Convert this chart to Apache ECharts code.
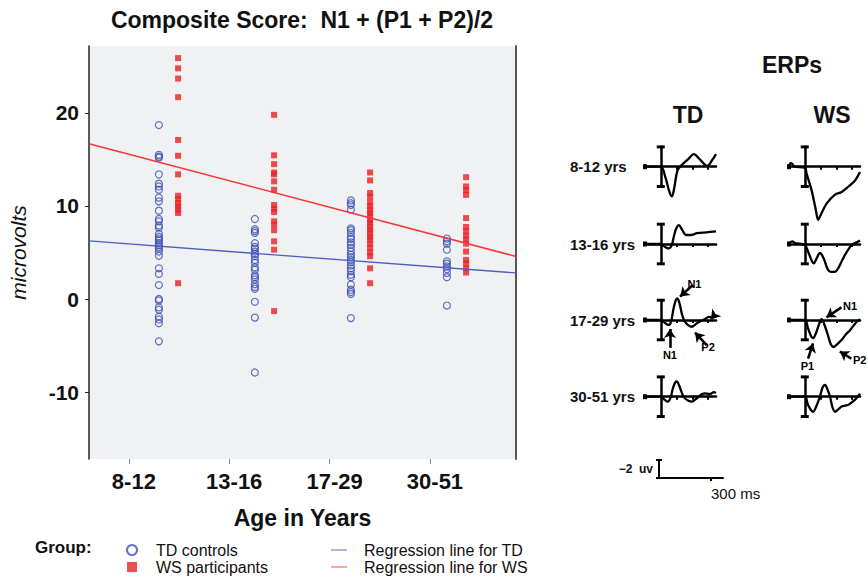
<!DOCTYPE html>
<html><head><meta charset="utf-8">
<script src="https://cdn.jsdelivr.net/npm/echarts@6/dist/echarts.min.js"></script>
<style>html,body{margin:0;padding:0;background:#fff}#c{width:868px;height:578px}</style>
</head><body><div id="c"></div>
<script>
// ---------- data ----------
const categories = ['8-12', '13-16', '17-29', '30-51'];
const yTicks = [-10, 0, 10, 20];

const tdAge8to12 = [18.7,15.5,15.3,15.2,13.4,12.4,12.1,11.75,10.9,10.5,9.5,8.6,8.35,7.9,7.7,7.0,6.7,6.5,6.3,6.0,5.8,5.6,5.4,5.1,4.65,3.3,2.7,1.5,0.0,-0.15,-0.9,-1.15,-1.9,-2.2,-2.6,-4.55];
const wsAge8to12 = [25.9,24.8,23.7,21.7,17.1,15.4,13.4,11.1,10.75,10.3,9.95,9.6,9.25,1.7];
const tdAge13to16 = [8.6,7.5,7.3,7.1,6.0,5.6,5.4,5.1,4.85,4.6,4.2,3.9,3.4,3.15,2.55,2.35,2.1,1.6,1.3,1.1,-0.3,-2.0,-7.9];
const wsAge13to16 = [19.8,15.45,14.5,13.6,13.4,12.65,11.75,10.1,9.7,9.35,8.35,8.0,7.4,6.2,5.3,-1.3];
const tdAge17to29 = [10.6,10.3,10.1,9.6,7.6,7.4,7.1,6.7,6.45,6.1,5.85,5.5,5.1,4.75,4.5,4.2,3.95,3.6,3.3,3.0,2.6,2.35,1.55,1.0,0.75,0.55,-2.05];
const wsAge17to29 = [13.6,12.75,11.4,11.0,10.4,10.0,9.6,9.25,8.9,8.5,8.2,7.8,7.45,7.1,6.7,6.4,5.95,5.5,5.0,4.6,3.3,1.7];
const tdAge30to51 = [6.5,6.2,5.95,5.3,4.05,3.8,3.5,3.2,2.8,2.35,-0.7];
const wsAge30to51 = [13.1,12.1,11.7,11.2,8.7,7.75,7.3,6.8,6.4,5.95,5.1,4.2,3.8,3.3,2.85];

// regression line end points [group position, microvolts]
const regressionTD = [[-0.828, 6.24], [3.62, 2.80]];
const regressionWS = [[-0.828, 16.7], [3.62, 4.58]];

// ERP waveforms: [ms, microvolts] (negative plotted up)
const rowLabels = ['8-12 yrs', '13-16 yrs', '17-29 yrs', '30-51 yrs'];
const erpTD8to12 = [[-100,0],[-50,0],[0,0],[28,1.1],[55,2.8],[70,3.3],[85,2.4],[106,0.4],[134,-0.2],[177,-0.9],[209,-1.4],[251,-0.75],[294,-0.1],[326,-0.75],[350,-1.4]];
const erpWS8to12 = [[-100,0],[-90,-0.4],[-78,-0.3],[-68,0],[0,0.1],[11,0.75],[43,2.6],[70,4.8],[85,5.9],[100,5.4],[138,4.1],[192,3.1],[234,2.8],[277,2.2],[320,1.5],[350,0.6]];
const erpTD13to16 = [[-100,0],[0,0],[25,0.3],[50,0.5],[70,0.1],[85,-1.0],[100,-1.8],[115,-2.1],[135,-1.6],[160,-1.0],[190,-1.0],[230,-1.2],[290,-1.3],[350,-1.4]];
const erpWS13to16 = [[-100,0],[-80,-0.3],[-60,-0.1],[0,0.1],[20,0.8],[45,1.9],[57,2.15],[75,1.6],[96,1.0],[120,1.6],[145,2.8],[165,3.1],[190,3.1],[215,2.6],[240,1.7],[265,0.9],[298,0.1],[330,-0.2],[350,-0.4]];
const erpTD17to29 = [[-100,0],[0,0],[25,0.3],[49,0.55],[65,0.2],[80,-1.2],[95,-2.2],[105,-2.4],[118,-1.9],[135,-0.6],[150,0.1],[175,0.6],[198,0.75],[225,0.4],[251,0.15],[280,-0.1],[305,-0.35],[330,-0.3],[350,-0.45]];
const erpWS17to29 = [[-100,0],[0,0],[20,0.9],[40,1.8],[53,2.0],[70,1.5],[90,0.5],[106,-0.1],[120,0.3],[145,1.6],[165,2.7],[181,3.0],[205,2.7],[234,2.2],[260,1.6],[288,1.1],[310,0.6],[330,0.2],[350,-0.1]];
const erpTD30to51 = [[-100,0],[0,0],[25,0.35],[45,0.55],[62,0.1],[78,-1.0],[92,-1.6],[102,-1.7],[115,-1.3],[132,-0.5],[149,0.1],[175,0.45],[198,0.55],[220,0.3],[240,0],[262,-0.3],[283,-0.37],[300,-0.3],[320,-0.35],[335,-0.5],[350,-0.4]];
const erpWS30to51 = [[-100,0],[0,0],[20,0.9],[40,1.5],[53,1.67],[70,1.2],[96,0],[112,-1.0],[128,-1.3],[144,-0.8],[160,0],[176,1.2],[192,1.67],[212,1.4],[234,1.1],[255,1.0],[277,0.9],[300,0.6],[320,0.3],[340,-0.1],[350,-0.35]];

// annotation arrows for the 17-29 row: [label, fromPoint, toPoint]
const arrowsTD = [['N1', [204,-3.9], [122,-2.6]], ['N1', [58,3.1], [58,1.0]], ['P2', [291,2.8], [217,1.4]], ['', [343,-0.6], [318,-0.1]]];
const arrowsWS = [['N1', [232,-1.4], [137,-0.3]], ['P1', [21,4.3], [52,2.6]], ['P2', [295,4.3], [222,3.5]]];

// ---------- chart ----------
const FONT = 'Liberation Sans, Arial, Helvetica, sans-serif';
const TEXT = '#111';
const tdSets = [tdAge8to12, tdAge13to16, tdAge17to29, tdAge30to51];
const wsSets = [wsAge8to12, wsAge13to16, wsAge17to29, wsAge30to51];
const tdData = [], wsData = [];
tdSets.forEach((arr, g) => arr.forEach(v => tdData.push([g - 0.1, v])));
wsSets.forEach((arr, g) => arr.forEach(v => wsData.push([g + 0.1, v])));

const grid = [{left: 89, top: 46, width: 427, height: 413, show: true, backgroundColor: '#f0f1f2', borderWidth: 0}];
const xAxis = [
  {gridIndex: 0, type: 'value', min: -0.828, max: 3.62, show: false},
  {gridIndex: 0, type: 'value', min: -0.397, max: 3.857, position: 'bottom',
   axisLine: {show: false, onZero: false}, splitLine: {show: false},
   axisTick: {show: true, customValues: [0,1,2,3], length: 5, lineStyle: {color: '#888', width: 1}},
   axisLabel: {customValues: [0,1,2,3], formatter: v => categories[Math.round(v)], fontSize: 22, fontWeight: 'bold', color: TEXT, fontFamily: FONT, margin: 11, padding: [0,0,0,10]},
   name: 'Age in Years', nameLocation: 'middle', nameGap: 47,
   nameTextStyle: {fontSize: 23, fontWeight: 'bold', color: TEXT, fontFamily: FONT}}
];
const yAxis = [
  {gridIndex: 0, type: 'value', min: -17.2, max: 27.2, position: 'left',
   axisLine: {show: true, onZero: false, lineStyle: {color: '#222', width: 1.5}},
   axisTick: {show: true, customValues: yTicks, length: 4, lineStyle: {color: '#222'}},
   axisLabel: {customValues: yTicks, fontSize: 21, fontWeight: 'bold', color: TEXT, fontFamily: FONT, margin: 10},
   splitLine: {show: false},
   name: 'microvolts', nameLocation: 'middle', nameGap: 60,
   nameTextStyle: {fontSize: 21, fontStyle: 'italic', color: TEXT, fontFamily: FONT}},
  {gridIndex: 0, type: 'value', min: -17.2, max: 27.2, position: 'right',
   axisLine: {show: true, onZero: false, lineStyle: {color: '#555', width: 2}},
   axisTick: {show: false}, axisLabel: {show: false}, splitLine: {show: false}}
];
const series = [
  {name: 'TD controls', type: 'scatter', xAxisIndex: 0, yAxisIndex: 0, data: tdData,
   symbol: 'circle', symbolSize: 7, itemStyle: {color: 'rgba(0,0,0,0)', borderColor: '#3d4fb5', borderWidth: 1.2}, z: 3},
  {name: 'WS participants', type: 'scatter', xAxisIndex: 0, yAxisIndex: 0, data: wsData,
   symbol: 'rect', symbolSize: 6, itemStyle: {color: '#ec2027'}, z: 3},
  {name: 'Regression line for TD', type: 'line', xAxisIndex: 0, yAxisIndex: 0, data: regressionTD,
   symbol: 'none', lineStyle: {color: '#4f5fc0', width: 1.3}, itemStyle: {color: '#4f5fc0'}, z: 4},
  {name: 'Regression line for WS', type: 'line', xAxisIndex: 0, yAxisIndex: 0, data: regressionWS,
   symbol: 'none', lineStyle: {color: '#f2393a', width: 1.6}, itemStyle: {color: '#f2393a'}, z: 4}
];

// ERP panels
const baselines = [166.7, 244, 320, 396.7];
const colLeft = [645, 789];
const PXUV = 9;          // pixels per microvolt
const PANEL_W = 71;      // -100..350 ms
const waves = [[erpTD8to12, erpWS8to12], [erpTD13to16, erpWS13to16], [erpTD17to29, erpWS17to29], [erpTD30to51, erpWS30to51]];
const arrowSets = [arrowsTD, arrowsWS];
function arrowMarkLine(list) {
  return {
    silent: true, symbol: ['none', 'arrow'], symbolSize: 9, animation: false,
    lineStyle: {color: '#000', width: 2.6, type: 'solid'},
    label: {show: true, position: 'start', distance: 2, fontSize: 11, fontWeight: 'bold', color: '#000', fontFamily: FONT, formatter: p => p.name},
    emphasis: {disabled: true},
    data: list.map(a => [{name: a[0], coord: a[1]}, {coord: a[2]}])
  };
}
waves.forEach((row, r) => {
  row.forEach((wave, c) => {
    const y0 = baselines[r], left = colLeft[c];
    // axis grid (I-bar spans +/-2.2 uV)
    const gA = grid.length;
    grid.push({left: left, top: y0 - 2.2 * PXUV, width: PANEL_W, height: 4.4 * PXUV});
    xAxis.push({gridIndex: gA, type: 'value', min: -100, max: 350,
      axisLine: {show: true, onZero: true, symbol: ['rect', 'none'], symbolSize: [5, 4], lineStyle: {color: '#000', width: 2.5}},
      axisTick: {show: true, customValues: [100, 200, 300], length: 3, lineStyle: {color: '#000', width: 2}},
      axisLabel: {show: false}, splitLine: {show: false}});
    yAxis.push({gridIndex: gA, type: 'value', min: -2.2, max: 2.2, inverse: true,
      axisLine: {show: true, onZero: true, symbol: ['rect', 'rect'], symbolSize: [8, 3], lineStyle: {color: '#000', width: 2.5}},
      axisTick: {show: false}, axisLabel: {show: false}, splitLine: {show: false}});
    // data grid (+/-6 uV, same scale)
    const gD = grid.length;
    grid.push({left: left, top: y0 - 6 * PXUV, width: PANEL_W, height: 12 * PXUV});
    const xi = xAxis.length, yi = yAxis.length;
    xAxis.push({gridIndex: gD, type: 'value', min: -100, max: 350, show: false});
    yAxis.push({gridIndex: gD, type: 'value', min: -6, max: 6, inverse: true, show: false});
    const s = {type: 'line', xAxisIndex: xi, yAxisIndex: yi, data: wave, symbol: 'none', smooth: 0.35,
      lineStyle: {color: '#000', width: 2.3}, clip: false, silent: true, z: 5, animation: false};
    if (r === 2) s.markLine = arrowMarkLine(arrowSets[c]);
    series.push(s);
  });
});
// scale bar
const gS = grid.length;
grid.push({left: 659, top: 460, width: 64, height: 18});
xAxis.push({gridIndex: gS, type: 'value', min: 0, max: 369,
  axisLine: {show: true, onZero: true, lineStyle: {color: '#000', width: 2}},
  axisTick: {show: true, customValues: [300], length: 3, lineStyle: {color: '#000', width: 2}},
  axisLabel: {show: true, customValues: [300], formatter: () => '300 ms', align: 'left', margin: 8, fontSize: 15, color: TEXT, fontFamily: FONT},
  splitLine: {show: false}});
yAxis.push({gridIndex: gS, type: 'value', min: -2, max: 0, inverse: true,
  axisLine: {show: true, onZero: true, symbol: ['rect', 'rect'], symbolSize: [6, 2], lineStyle: {color: '#000', width: 2}},
  axisTick: {show: false}, axisLabel: {show: false}, splitLine: {show: false},
  name: '\u22122  uv', nameLocation: 'middle', nameRotate: 0, nameGap: 6,
  nameTextStyle: {fontSize: 12, fontWeight: 'bold', color: TEXT, fontFamily: FONT, align: 'right'}});

const graphic = [
  {type: 'text', x: 302, y: 20, style: {text: 'Composite Score:  N1 + (P1 + P2)/2', fontSize: 23, fontWeight: 'bold', fontFamily: FONT, fill: TEXT, align: 'center', verticalAlign: 'middle'}},
  {type: 'text', x: 35, y: 547, style: {text: 'Group:', fontSize: 17, fontWeight: 'bold', fontFamily: FONT, fill: TEXT, align: 'left', verticalAlign: 'middle'}},
  {type: 'text', x: 792, y: 65, style: {text: 'ERPs', fontSize: 23, fontWeight: 'bold', fontFamily: FONT, fill: TEXT, align: 'center', verticalAlign: 'middle'}},
  {type: 'text', x: 688, y: 115, style: {text: 'TD', fontSize: 23, fontWeight: 'bold', fontFamily: FONT, fill: TEXT, align: 'center', verticalAlign: 'middle'}},
  {type: 'text', x: 832, y: 115, style: {text: 'WS', fontSize: 23, fontWeight: 'bold', fontFamily: FONT, fill: TEXT, align: 'center', verticalAlign: 'middle'}}
];
rowLabels.forEach((t, r) => graphic.push({type: 'text', x: 570, y: baselines[r], style: {text: t, fontSize: 15, fontWeight: 'bold', fontFamily: FONT, fill: TEXT, align: 'left', verticalAlign: 'middle'}}));

const option = {
  animation: false,
  textStyle: {fontFamily: FONT},
  grid, xAxis, yAxis, series, graphic,
  legend: [
    {data: ['TD controls', 'WS participants'], orient: 'vertical', left: 121, top: 537, height: 60, itemGap: 1, itemWidth: 10, itemHeight: 10, selectedMode: false,
     textStyle: {fontSize: 16, color: TEXT, fontFamily: FONT, padding: [0, 0, 0, 14]}},
    {data: [{name: 'Regression line for TD', icon: 'rect'}, {name: 'Regression line for WS', icon: 'rect'}], orient: 'vertical', left: 326, top: 537, height: 60, itemGap: 1, itemWidth: 16, itemHeight: 1.5, selectedMode: false,
     itemStyle: {opacity: 0.6},
     textStyle: {fontSize: 16, color: TEXT, fontFamily: FONT, padding: [0, 0, 0, 12]}}
  ]
};
const chart = echarts.init(document.getElementById('c'), null, {renderer: 'svg', width: 868, height: 578});
chart.setOption(option);
</script></body></html>
